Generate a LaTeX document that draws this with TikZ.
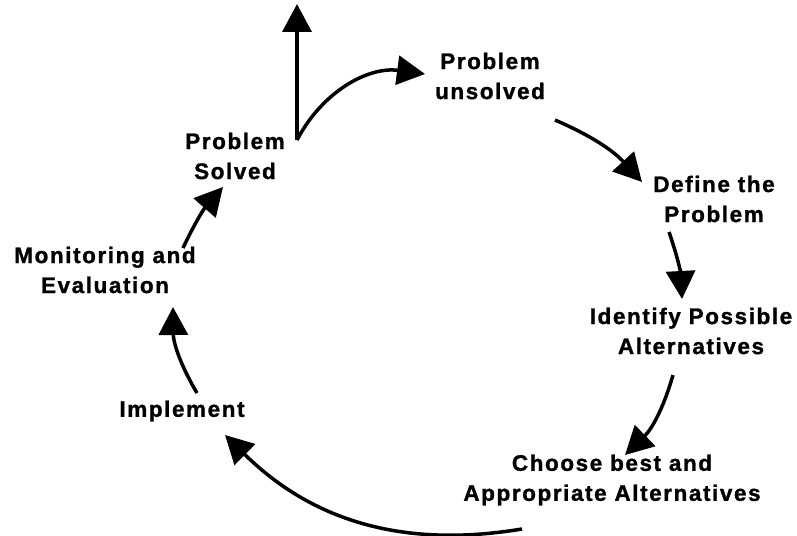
\documentclass[tikz,border=0pt]{standalone}
\usepackage{fontspec}
\setmainfont{Liberation Sans}[LetterSpace=7,FakeBold=1.2]
\usetikzlibrary{arrows.meta}

\begin{document}
\begin{tikzpicture}[x=1pt, y=-1pt,
      every node/.style = {align=center, inner sep=2pt,
        font=\bfseries\fontsize{22.5}{30}\selectfont},
      flow/.style = {line width=3.5pt,
        -{Triangle[length=28pt,width=29pt]}}]
  \useasboundingbox (0,0) rectangle (797,535);
  % the steps round the circle
  \node (unsolved)  at (490,76)  {Problem\\unsolved};
  \node (define)    at (714,199) {Define the\\Problem};
  \node (identify)  at (691,331) {Identify Possible\\Alternatives};
  \node (choose)    at (612,480) {Choose best and\\Appropriate Alternatives};
  \node (implement) at (182,411) {Implement};
  \node (monitor)   at (105,270) {Monitoring and\\Evaluation};
  \node (solved)    at (235,156) {Problem\\Solved};
  \coordinate (fork) at (297,140);
  \coordinate (exit) at (297,4);
  % arrows
  \draw[flow] (fork) -- (exit);
  \draw[flow] (fork) to[bend left=35] ([shift={(-65,-2)}]unsolved.center);
  \draw[flow] ([shift={(65,44)}]unsolved.center) to[bend left=12] ([shift={(-72,-17)}]define.center);
  \draw[flow] ([shift={(-45,33)}]define.center) to[bend left=8] ([shift={(-9,-32)}]identify.center);
  \draw[flow] ([shift={(-18,44)}]identify.center) to[bend left=15] ([shift={(13,-25)}]choose.center);
  \draw[flow] ([shift={(-90,49)}]choose.center) to[bend left=27] ([shift={(43,24)}]implement.center);
  \draw[flow] ([shift={(15,-18)}]implement.center) to[bend left=15] ([shift={(68,37)}]monitor.center);
  \draw[flow] ([shift={(78,-22)}]monitor.center) to[bend left=8] ([shift={(-12,31)}]solved.center);
\end{tikzpicture}
\end{document}
